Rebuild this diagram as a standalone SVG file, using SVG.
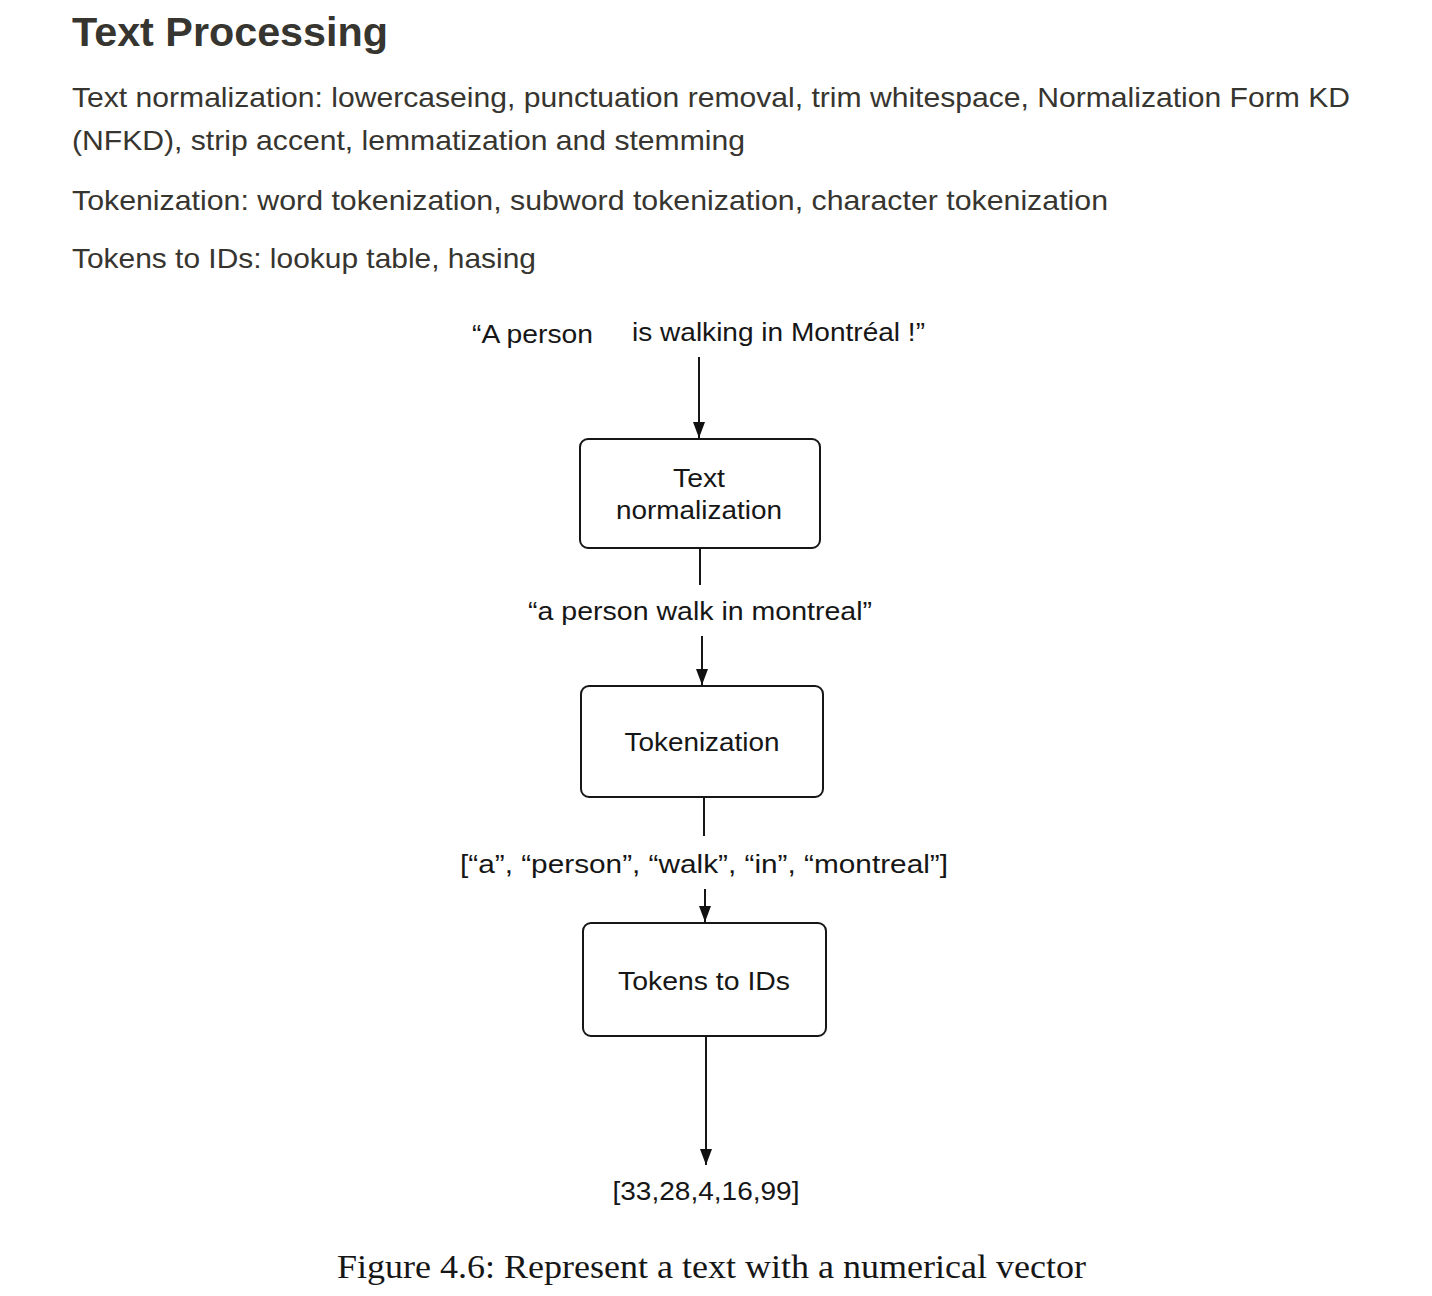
<svg xmlns="http://www.w3.org/2000/svg" width="1432" height="1296" viewBox="0 0 1432 1296">
<defs>
<marker id="ah" viewBox="0 0 16 12" refX="16" refY="6" markerWidth="16" markerHeight="12" markerUnits="userSpaceOnUse" orient="auto">
<path d="M0,0 L16,6 L0,12 Z" fill="#111"/>
</marker>
<style>
.h{font-family:"Liberation Sans",Arial,sans-serif;font-weight:bold;font-size:41px;fill:#37352f}
.b{font-family:"Liberation Sans",Arial,sans-serif;font-size:28px;fill:#37352f}
.d{font-family:"Liberation Sans",Arial,sans-serif;font-size:26px;fill:#161616}
.c{font-family:"Liberation Serif","Times New Roman",serif;font-size:34px;fill:#161616}
.box{fill:#fff;stroke:#161616;stroke-width:2}
.ln{stroke:#161616;stroke-width:2;fill:none}
</style>
</defs>
<rect width="1432" height="1296" fill="#fff"/>
<g id="header">
<text class="h" x="72" y="46" textLength="316" lengthAdjust="spacingAndGlyphs">Text Processing</text>
<text class="b" x="72" y="107" textLength="1278" lengthAdjust="spacingAndGlyphs">Text normalization: lowercaseing, punctuation removal, trim whitespace, Normalization Form KD</text>
<text class="b" x="72" y="150" textLength="673" lengthAdjust="spacingAndGlyphs">(NFKD), strip accent, lemmatization and stemming</text>
<text class="b" x="72" y="210" textLength="1036" lengthAdjust="spacingAndGlyphs">Tokenization: word tokenization, subword tokenization, character tokenization</text>
<text class="b" x="72" y="268" textLength="464" lengthAdjust="spacingAndGlyphs">Tokens to IDs: lookup table, hasing</text>
</g>
<g id="input">
<text class="d" x="472" y="343" textLength="121" lengthAdjust="spacingAndGlyphs">“A person</text>
<text class="d" x="632" y="341" textLength="293" lengthAdjust="spacingAndGlyphs">is walking in Montréal !”</text>
</g>
<g id="norm">
<rect class="box" x="580" y="439" width="240" height="109" rx="8"/>
<text class="d" x="699" y="487" text-anchor="middle" textLength="52" lengthAdjust="spacingAndGlyphs">Text</text>
<text class="d" x="699" y="519" text-anchor="middle" textLength="166" lengthAdjust="spacingAndGlyphs">normalization</text>
</g>
<g id="normout">
<text class="d" x="700" y="620" text-anchor="middle" textLength="344" lengthAdjust="spacingAndGlyphs">“a person walk in montreal”</text>
</g>
<g id="tok">
<rect class="box" x="581" y="686" width="242" height="111" rx="8"/>
<text class="d" x="702" y="751" text-anchor="middle" textLength="155" lengthAdjust="spacingAndGlyphs">Tokenization</text>
</g>
<g id="tokout">
<text class="d" x="704" y="873" text-anchor="middle" textLength="488" lengthAdjust="spacingAndGlyphs">[“a”, “person”, “walk”, “in”, “montreal”]</text>
</g>
<g id="ids">
<rect class="box" x="583" y="923" width="243" height="113" rx="8"/>
<text class="d" x="704" y="990" text-anchor="middle" textLength="172" lengthAdjust="spacingAndGlyphs">Tokens to IDs</text>
</g>
<g id="vec">
<text class="d" x="706" y="1200" text-anchor="middle" textLength="187" lengthAdjust="spacingAndGlyphs">[33,28,4,16,99]</text>
</g>
<g id="connectors">
<line class="ln" x1="699" y1="357" x2="699" y2="438" marker-end="url(#ah)"/>
<line class="ln" x1="700" y1="548" x2="700" y2="585"/>
<line class="ln" x1="702" y1="636" x2="702" y2="685" marker-end="url(#ah)"/>
<line class="ln" x1="704" y1="797" x2="704" y2="836"/>
<line class="ln" x1="705" y1="889" x2="705" y2="922" marker-end="url(#ah)"/>
<line class="ln" x1="706" y1="1036" x2="706" y2="1165" marker-end="url(#ah)"/>
</g>
<g id="caption">
<text class="c" x="337" y="1278" textLength="749" lengthAdjust="spacingAndGlyphs">Figure 4.6: Represent a text with a numerical vector</text>
</g>
</svg>
